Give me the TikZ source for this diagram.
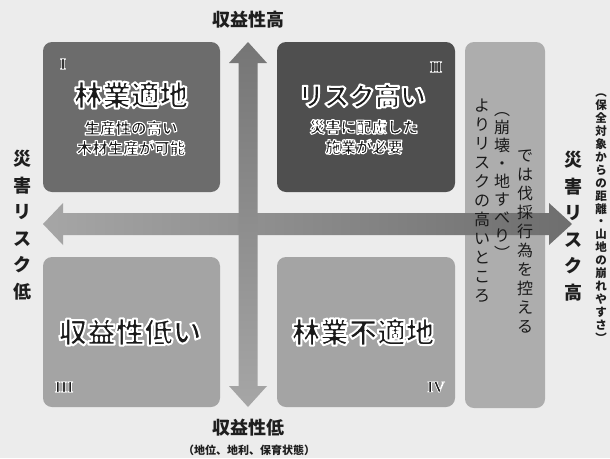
\documentclass[tikz,border=0pt]{standalone}
\usepackage{fontspec}
\newfontfamily\jp{Noto Sans CJK JP}
\newfontfamily\rom{Liberation Serif}
\definecolor{bg}{HTML}{ECECEC}
\definecolor{boxone}{HTML}{6C6C6C}
\definecolor{boxtwo}{HTML}{4F4F4F}
\definecolor{boxlow}{HTML}{A4A4A4}
\definecolor{tallbox}{HTML}{ADADAD}
\definecolor{arrdark}{HTML}{6E6E6E}
\definecolor{arrlight}{HTML}{A6A6A6}
\definecolor{lab}{HTML}{1E1E1E}
\definecolor{btext}{HTML}{1A1A1A}
\tikzset{
  quad/.style={rounded corners=9pt, draw=none, inner sep=0pt},
  bigtxt/.style={font=\jp\bfseries\fontsize{28.5}{34}\selectfont, text=btext, inner sep=0pt},
  subtxt/.style={font=\jp\bfseries\fontsize{15.5}{20}\selectfont, text=btext, align=center, inner sep=0pt},
  romtxt/.style={font=\rom\bfseries\fontsize{16}{18}\selectfont, text=btext, inner sep=0pt},
  axtxt/.style={font=\jp\bfseries\fontsize{18}{20}\selectfont, text=lab, inner sep=0pt},
  vlab/.style={font=\jp\bfseries\fontsize{18}{26.5}\selectfont, text=lab, align=center, anchor=north, inner sep=0pt},
  vsmall/.style={font=\jp\bfseries\fontsize{11.5}{12.9}\selectfont, text=lab, align=center, anchor=north, inner sep=0pt},
  vbox/.style={font=\jp\fontsize{16}{19}\selectfont, text=btext, align=center, anchor=north, inner sep=0pt},
}
% white-edged text: fill dark, stroke white (PDF text render mode 2)
\newcommand\hl[2][2]{\special{pdf:literal direct 2 Tr 1 G #1 w 1 j}#2\special{pdf:literal direct 0 Tr}}
\begin{document}
\begin{tikzpicture}[x=1pt,y=-1pt]
\useasboundingbox (0,0) rectangle (610,458);
\fill[bg] (0,0) rectangle (610,458);

% quadrant boxes
\node[quad, fill=boxone, minimum width=177pt, minimum height=150pt] (q1) at (131.5,117) {};
\node[quad, fill=boxtwo, minimum width=178pt, minimum height=150pt] (q2) at (366,117) {};
\node[quad, fill=boxlow, minimum width=177pt, minimum height=150pt] (q3) at (131.5,332) {};
\node[quad, fill=boxlow, minimum width=178pt, minimum height=150pt] (q4) at (366,332) {};
\node[quad, fill=tallbox, minimum width=80pt, minimum height=366pt] (tall) at (505,225) {};

% horizontal double arrow
\shade[left color=arrlight, right color=arrdark]
  (43,224) -- (63,203) -- (63,213) -- (549,213) -- (549,203) -- (572,224)
  -- (549,245) -- (549,235) -- (63,235) -- (63,245) -- cycle;
% vertical double arrow
\shade[top color=arrdark!95, bottom color=arrlight]
  (248,42) -- (267,63) -- (257.5,63) -- (257.5,386) -- (267,386) -- (248,407)
  -- (229,386) -- (238.5,386) -- (238.5,63) -- (229,63) -- cycle;

% quadrant texts
\node[romtxt] (r1) at (63,64) {\hl[0.7]{I}};
\node[bigtxt] (t1) at (131,95) {\hl{林業適地}};
\node[subtxt] (s1) at (131,138) {\hl[1.1]{生産性の高い}\\\hl[1.1]{木材生産が可能}};

\node[romtxt] (r2) at (436,67) {\hl[0.7]{II}};
\node[bigtxt, font=\jp\bfseries\fontsize{25.5}{30}\selectfont] (t2) at (362,96) {\hl{リスク高い}};
\node[subtxt] (s2) at (364,137) {\hl[1.1]{災害に配慮した}\\\hl[1.1]{施業が必要}};

\node[bigtxt] (t3) at (130,332) {\hl{収益性低い}};
\node[romtxt] (r3) at (64,387) {\hl[0.7]{III}};

\node[bigtxt] (t4) at (363,332) {\hl{林業不適地}};
\node[romtxt] (r4) at (436,387) {\hl[0.7]{IV}};

% tall box text (vertical, right to left columns)
\node[vbox] (c1) at (525,150) {で\\は\\伐\\採\\行\\為\\を\\控\\え\\る};
\node[vbox, font=\jp\fontsize{16}{18}\selectfont] (c2) at (502,112) {︵\\崩\\壊\\・\\地\\す\\べ\\り\\︶};
\node[vbox] (c3) at (482,99) {よ\\り\\リ\\ス\\ク\\の\\高\\い\\と\\こ\\ろ};

% axis labels
\node[axtxt] (top) at (248,20) {収益性高};
\node[axtxt] (bot) at (248,428) {収益性低};
\node[axtxt, font=\jp\bfseries\fontsize{11}{12}\selectfont] (botsub) at (249,450) {（地位、地利、保育状態）};
\node[vlab] (left) at (22,150) {災\\害\\リ\\ス\\ク\\低};
\node[vlab] (right) at (573,151) {災\\害\\リ\\ス\\ク\\高};
\node[vsmall] (far) at (601,94) {︵\\保\\全\\対\\象\\か\\ら\\の\\距\\離\\・\\山\\地\\の\\崩\\れ\\や\\す\\さ\\︶};
\end{tikzpicture}
\end{document}
